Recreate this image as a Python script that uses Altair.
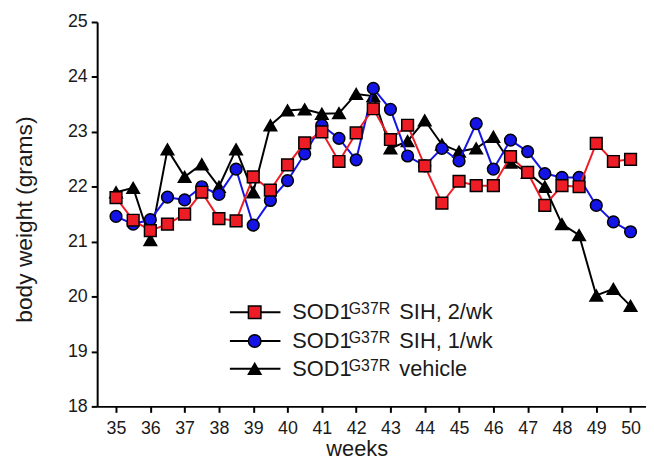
import altair as alt
import pandas as pd

weeks = [35.0, 35.5, 36.0, 36.5, 37.0, 37.5, 38.0, 38.5, 39.0, 39.5, 40.0, 40.5,
         41.0, 41.5, 42.0, 42.5, 43.0, 43.5, 44.0, 44.5, 45.0, 45.5, 46.0, 46.5,
         47.0, 47.5, 48.0, 48.5, 49.0, 49.5, 50.0]
sih_2wk = [21.80, 21.39, 21.20, 21.32, 21.50, 21.90, 21.42, 21.38, 22.18, 21.94,
           22.40, 22.80, 23.00, 22.46, 22.98, 23.42, 22.86, 23.12, 22.38, 21.70,
           22.10, 22.02, 22.02, 22.55, 22.26, 21.66, 22.02, 22.00, 22.79, 22.46, 22.50]
sih_1wk = [21.46, 21.32, 21.40, 21.81, 21.76, 22.00, 21.86, 22.32, 21.30, 21.75,
           22.11, 22.60, 23.12, 22.88, 22.49, 23.79, 23.41, 22.56, 22.38, 22.70,
           22.47, 23.15, 22.32, 22.85, 22.64, 22.24, 22.17, 22.17, 21.66, 21.36, 21.18]
vehicle = [21.90, 21.98, 21.03, 22.68, 22.18, 22.41, 22.00, 22.68, 21.90, 23.12,
           23.39, 23.41, 23.33, 23.34, 23.69, 23.65, 22.70, 22.83, 23.21, 22.77,
           22.64, 22.70, 22.91, 22.44, 22.26, 22.00, 21.32, 21.12, 20.02, 20.14, 19.83]

x_ticks = list(range(35, 51))
y_ticks = list(range(18, 26))

legend_prefix = ["SOD1", "SOD1", "SOD1"]
legend_sup = ["G37R", "G37R", "G37R"]
legend_rest = ["SIH, 2/wk", "SIH, 1/wk", "vehicle"]

FONT = "Liberation Sans"
RED = "#ee1c25"
BLUE = "#1414e6"
BLACK = "#000000"

x_scale = alt.Scale(domain=[34.45, 50.45], nice=False, zero=False)
y_scale = alt.Scale(domain=[18, 25], nice=False, zero=False)

x_axis = alt.Axis(values=x_ticks, title="weeks", grid=False, tickSize=6, tickWidth=2,
                  domainWidth=2, domainColor=BLACK, tickColor=BLACK,
                  labelFontSize=18, labelPadding=7, labelColor="#1a1a1a", labelFont=FONT,
                  titleFontSize=22, titleFont=FONT, titleFontWeight="normal",
                  titleColor="#1a1a1a", titleX=262, titleY=50, titleBaseline="alphabetic",
                  titleAlign="center", labelFlush=False)
y_axis = alt.Axis(values=y_ticks, title="body weight (grams)", grid=False, tickSize=6,
                  tickWidth=2, domainWidth=2, domainColor=BLACK, tickColor=BLACK,
                  labelFontSize=18, labelPadding=4, labelColor="#1a1a1a", labelFont=FONT,
                  titleFontSize=23, titleFont=FONT, titleFontWeight="normal",
                  titleColor="#1a1a1a", titleX=-61, titleY=199, titleAlign="center",
                  titleBaseline="bottom", labelFlush=False)


def series_layers(values, line_color, shape, fill, size):
    df = pd.DataFrame({"week": weeks, "weight": values})
    base = alt.Chart(df).encode(
        x=alt.X("week:Q", scale=x_scale, axis=x_axis),
        y=alt.Y("weight:Q", scale=y_scale, axis=y_axis),
    )
    line = base.mark_line(color=line_color, strokeWidth=2)
    pts = base.mark_point(shape=shape, filled=True, fill=fill, stroke=BLACK,
                          strokeWidth=1.5, size=size, opacity=1)
    return [line, pts]


layers = []
layers += series_layers(vehicle, BLACK, "triangle-up", BLACK, 160)
layers += series_layers(sih_1wk, BLUE, "circle", BLUE, 140)
layers += series_layers(sih_2wk, RED, "square", RED, 140)

# manual legend (plot-area pixel positions)
row_y = [293, 322, 350]
shapes = ["square", "circle", "triangle-up"]
fills = [RED, BLUE, BLACK]
for i in range(3):
    ldf = pd.DataFrame({"prefix": [legend_prefix[i]], "sup": [legend_sup[i]],
                        "rest": [legend_rest[i]]})
    ry = row_y[i]
    lb = alt.Chart(ldf)
    layers.append(lb.mark_rule(color=BLACK, strokeWidth=2).encode(
        x=alt.value(134), x2=alt.value(185), y=alt.value(ry)))
    layers.append(lb.mark_point(shape=shapes[i], filled=True, fill=fills[i], stroke=BLACK,
                                strokeWidth=1.5, size=160, opacity=1).encode(
        x=alt.value(159), y=alt.value(ry)))
    layers.append(lb.mark_text(font=FONT, fontSize=22, align="left", baseline="alphabetic",
                               color="#1a1a1a").encode(
        x=alt.value(197), y=alt.value(ry + 7), text="prefix:N"))
    layers.append(lb.mark_text(font=FONT, fontSize=16, align="left", baseline="alphabetic",
                               color="#1a1a1a").encode(
        x=alt.value(254), y=alt.value(ry + 2), text="sup:N"))
    layers.append(lb.mark_text(font=FONT, fontSize=22, align="left", baseline="alphabetic",
                               color="#1a1a1a").encode(
        x=alt.value(305), y=alt.value(ry + 7), text="rest:N"))

chart = alt.layer(*layers).properties(
    width=554, height=388,
    autosize=alt.AutoSizeParams(type="none"),
    padding={"left": 90, "top": 12, "right": 0, "bottom": 54},
    background="white",
).configure_view(stroke=None)

chart.save("out.html", embed_options={"renderer": "svg", "actions": False})
